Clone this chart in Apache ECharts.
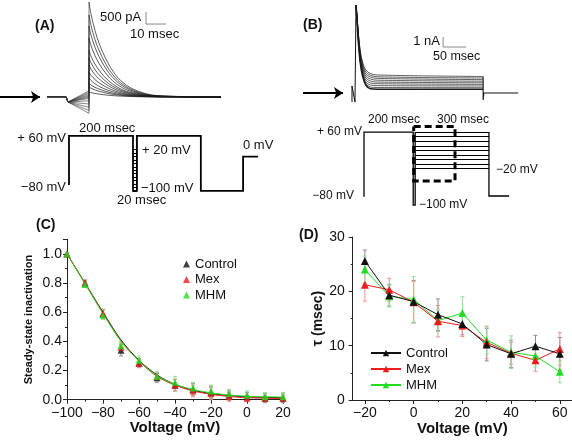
<!DOCTYPE html>
<html><head><meta charset="utf-8">
<script src="https://cdn.jsdelivr.net/npm/echarts@6/dist/echarts.min.js"></script>
<style>html,body{margin:0;padding:0;background:#fff}#c{width:572px;height:442px}</style>
</head><body><div id="c"></div><script>
// ---------- Panel A: current traces (time in ms, current in pA) ----------
const aPreTimes = [0, 9.5, 10.5];
const aPreValues = [10, 10, -210];
const aStepTime = 21;
const aFanEnd = [262, 200, 150, 90, 40, -10, -55, -155, -290, -430, -560, -680];
const aDecayTimes = [21, 22, 24, 26, 29, 33, 38, 45, 55, 87];
const aDecay = [
  [3960, 3450, 2770, 2250, 1660, 1070, 600, 260, 60, 0],
  [3420, 2980, 2390, 1950, 1430, 920, 520, 220, 50, 0],
  [2960, 2580, 2070, 1690, 1240, 800, 450, 190, 45, 0],
  [2460, 2140, 1720, 1400, 1030, 660, 370, 160, 37, 0],
  [1960, 1700, 1370, 1120, 820, 530, 290, 130, 30, 0],
  [1630, 1420, 1140, 930, 680, 440, 245, 105, 25, 0],
  [1330, 1160, 930, 760, 560, 360, 200, 85, 20, 0],
  [1040, 900, 730, 590, 440, 280, 155, 68, 15, 0],
  [790, 690, 550, 450, 330, 215, 120, 50, 12, 0],
  [580, 500, 405, 330, 245, 155, 87, 38, 9, 0],
  [420, 365, 295, 240, 175, 113, 63, 27, 6, 0],
  [210, 183, 147, 120, 88, 57, 32, 14, 3, 0]
];
const aScaleBar = {t: 49.5, pA: 3040, dT: 10, dPA: 500};
const aArrow = {from: -23.5, to: -3.5};
// Panel A voltage protocol (ms, mV)
const aProtoT = [-3, 0, 0, 200, 200, 212, 212, 412, 412, 544, 544, 591];
const aProtoV = [-80, -80, 60, 60, -100, -100, 60, 60, -100, -100, 0, 0];
const aLadderLevels = [20, 10, 0, -10, -20, -30, -40, -50, -60, -70, -80, -90, -100];
const aLadderT = [200, 212];

// ---------- Panel B: current traces (ms, nA) ----------
const bPreT = [0, 0, 6.5, 8.7, 8.7];
const bPreV = [-0.9, 0.7, -0.9, -0.9, 8.8];
const bDecayTimes = [8.7, 11, 14, 18, 23, 30, 40, 55, 285];
const bDecay = [
  [8.8, 7.6, 5.9, 4.2, 3.1, 2.3, 1.95, 1.8, 1.65],
  [8.8, 7.5, 5.8, 4.0, 2.9, 2.1, 1.78, 1.62, 1.5],
  [8.8, 7.5, 5.7, 3.9, 2.7, 1.9, 1.6, 1.46, 1.34],
  [8.8, 7.4, 5.6, 3.7, 2.5, 1.7, 1.4, 1.28, 1.18],
  [8.8, 7.4, 5.5, 3.6, 2.3, 1.5, 1.2, 1.1, 1.02],
  [8.8, 7.3, 5.4, 3.4, 2.1, 1.3, 1.0, 0.93, 0.86],
  [8.8, 7.3, 5.2, 3.3, 2.0, 1.1, 0.8, 0.74, 0.7],
  [8.8, 7.2, 5.1, 3.1, 1.8, 0.95, 0.6, 0.55, 0.53],
  [8.8, 7.2, 5.0, 3.0, 1.7, 0.8, 0.42, 0.38, 0.37]
];
const bTailT = [285, 285, 286.5, 361];
const bTailV = [1.65, -0.7, 0, 0];
const bScaleBar = {t: 198, nA: 4.6, dT: 50, dNA: 1};
const bArrow = {from: -106.5, to: -19.6};
// Panel B voltage protocol
const bProtoT = [-3, 0, 0, 200, 200, 208, 208];
const bProtoV = [-80, -80, 60, 60, -100, -100, 60];
const bTestLevels = [60, 50, 40, 30, 20, 10, 0, -10, -20];
const bTestT = [208, 508];
const bReturnT = [508, 508, 590];
const bReturnV = [60, -80, -80];
const bBox = {t0: 202, t1: 370, v0: -47, v1: 72};

// ---------- Panel C ----------
const voltC = [-100, -90, -80, -70, -60, -50, -40, -30, -20, -10, 0, 10, 20];
const ssiControl = [1.0, 0.80, 0.59, 0.34, 0.25, 0.15, 0.10, 0.07, 0.05, 0.03, 0.02, 0.01, 0.01];
const ssiMex     = [1.0, 0.80, 0.59, 0.36, 0.25, 0.16, 0.10, 0.06, 0.04, 0.02, 0.01, 0.01, 0.01];
const ssiMHM     = [1.0, 0.79, 0.58, 0.37, 0.27, 0.16, 0.12, 0.08, 0.06, 0.04, 0.03, 0.02, 0.02];
const errControlC = [0.01, 0.02, 0.03, 0.04, 0.03, 0.03, 0.04, 0.04, 0.04, 0.03, 0.03, 0.03, 0.03];
const errMexC     = [0.01, 0.02, 0.03, 0.03, 0.03, 0.03, 0.04, 0.04, 0.04, 0.03, 0.02, 0.02, 0.02];
const errMHMC     = [0.01, 0.02, 0.03, 0.03, 0.03, 0.03, 0.04, 0.04, 0.04, 0.03, 0.03, 0.03, 0.03];
const fitControl = [1.0, 0.80, 0.60, 0.41, 0.27, 0.17, 0.105, 0.066, 0.042, 0.028, 0.02, 0.016, 0.014];
const fitMex     = [1.0, 0.80, 0.595, 0.405, 0.265, 0.16, 0.10, 0.06, 0.037, 0.022, 0.014, 0.01, 0.008];
const fitMHM     = [1.0, 0.795, 0.59, 0.40, 0.265, 0.165, 0.105, 0.07, 0.047, 0.032, 0.024, 0.02, 0.018];
const cYTicks = [0, 0.2, 0.4, 0.6, 0.8, 1.0];

// ---------- Panel D ----------
const voltD = [-20, -10, 0, 10, 20, 30, 40, 50, 60];
const tauControl = [25.6, 19.3, 18.1, 15.7, 14.0, 10.2, 8.5, 9.9, 8.5];
const tauMex     = [21.2, 20.3, 18.0, 14.5, 13.7, 10.6, 8.6, 7.3, 9.4];
const tauMHM     = [24.0, 19.1, 18.5, 14.6, 16.0, 11.0, 8.8, 8.1, 5.2];
const errControlD = [2.0, 2.0, 3.9, 2.9, 2.0, 3.0, 2.5, 2.0, 3.0];
const errMexD     = [3.0, 2.1, 3.8, 2.9, 2.0, 3.0, 2.0, 2.0, 3.0];
const errMHMD     = [2.5, 2.0, 4.2, 2.0, 3.0, 2.5, 3.0, 2.0, 2.0];
const dXTicks = [-20, 0, 20, 40, 60];
const dXMinorTicks = [-10, 10, 30, 50];
const seriesNames = ['Control', 'Mex', 'MHM'];

// ---------- styles ----------
const FONT = 'Liberation Sans, Arial, Helvetica, sans-serif';
const BLACK = '#111111', RED = '#ee1b1b', GREEN = '#22dd22';
const ERR = {Control: '#8a8a8a', Mex: '#f09090', MHM: '#8fe08f'};
const minus = s => String(s).replace('-', '\u2212');

const chart = echarts.init(document.getElementById('c'), null, {renderer: 'canvas'});

const series = [];
const hiddenX = (g, min, max) => ({gridIndex: g, type: 'value', min, max, show: false});
const hiddenY = hiddenX;

function pairs(ts, vs) { return ts.map((t, i) => [t, vs[i]]); }
function traceLine(xi, data, opts) {
  return Object.assign({type: 'line', xAxisIndex: xi, yAxisIndex: xi, data, showSymbol: false, symbol: 'none',
    silent: true, animation: false, lineStyle: {color: '#1a1a1a', width: 0.7}}, opts || {});
}
function segs(xi, list, style, extra) {
  return Object.assign({type: 'lines', coordinateSystem: 'cartesian2d', xAxisIndex: xi, yAxisIndex: xi,
    polyline: true, silent: true, animation: false, lineStyle: Object.assign({opacity: 1, curveness: 0}, style),
    data: list.map(c => ({coords: c}))}, extra || {});
}

// Panel A traces
aDecay.forEach((row, i) => {
  const pre = pairs(aPreTimes, aPreValues).concat([[aStepTime, aFanEnd[i]], [aStepTime, row[0]]]);
  series.push(traceLine(0, pre, {lineStyle: {color: '#333', width: 0.6}}));
  series.push(traceLine(0, pairs(aDecayTimes, row), {smooth: 0.35}));
});
series.push(segs(0, [[[aScaleBar.t, aScaleBar.pA + aScaleBar.dPA], [aScaleBar.t, aScaleBar.pA], [aScaleBar.t + aScaleBar.dT, aScaleBar.pA]]],
  {color: '#888', width: 1}));
series.push(segs(0, [[[aArrow.from, 0], [aArrow.to, 0]]], {color: '#000', width: 2},
  {polyline: false, symbol: ['none', 'arrow'], symbolSize: 9}));
// Panel A protocol
series.push(segs(1, [pairs(aProtoT, aProtoV)], {color: '#000', width: 1.8}));
series.push(segs(1, aLadderLevels.map(v => [[aLadderT[0], v], [aLadderT[1], v]]), {color: '#000', width: 1}, {polyline: false}));
series.push(segs(1, [[[aLadderT[1], 60], [aLadderT[1], -100]]], {color: '#000', width: 1.2}));

// Panel B traces
series.push(traceLine(2, pairs(bPreT, bPreV), {lineStyle: {color: '#111', width: 1}}));
bDecay.forEach((row, i) => {
  series.push(traceLine(2, pairs(bDecayTimes, row), {smooth: 0.35,
    lineStyle: {color: '#1a1a1a', width: i === bDecay.length - 1 ? 1.6 : 0.7}}));
});
series.push(traceLine(2, pairs(bTailT, bTailV), {lineStyle: {color: '#111', width: 1.1}}));
series.push(segs(2, [[[bScaleBar.t, bScaleBar.nA + bScaleBar.dNA], [bScaleBar.t, bScaleBar.nA], [bScaleBar.t + bScaleBar.dT, bScaleBar.nA]]],
  {color: '#888', width: 1}));
series.push(segs(2, [[[bArrow.from, 0], [bArrow.to, 0]]], {color: '#000', width: 2},
  {polyline: false, symbol: ['none', 'arrow'], symbolSize: 9}));
// Panel B protocol
series.push(segs(3, [pairs(bProtoT, bProtoV), pairs(bReturnT, bReturnV)], {color: '#000', width: 1.3}));
series.push(segs(3, bTestLevels.map(v => [[bTestT[0], v], [bTestT[1], v]]), {color: '#000', width: 1.1}, {polyline: false}));
series.push(segs(3, [[[bBox.t0, bBox.v1], [bBox.t1, bBox.v1], [bBox.t1, bBox.v0], [bBox.t0, bBox.v0], [bBox.t0, bBox.v1]]],
  {color: '#000', width: 3, type: [7, 4]}));

// Error bar helper
function errBars(xi, yi, xs, ys, es, color, cap) {
  return {type: 'custom', xAxisIndex: xi, yAxisIndex: yi, silent: true, animation: false, z: 1,
    data: xs.map((x, i) => [x, ys[i] - es[i], ys[i] + es[i]]),
    encode: {x: 0, y: [1, 2]},
    renderItem(params, api) {
      const x = api.value(0);
      const p1 = api.coord([x, api.value(1)]), p2 = api.coord([x, api.value(2)]);
      const st = {stroke: color, lineWidth: 1};
      return {type: 'group', children: [
        {type: 'line', shape: {x1: p1[0], y1: p1[1], x2: p2[0], y2: p2[1]}, style: st},
        {type: 'line', shape: {x1: p1[0] - cap, y1: p1[1], x2: p1[0] + cap, y2: p1[1]}, style: st},
        {type: 'line', shape: {x1: p2[0] - cap, y1: p2[1], x2: p2[0] + cap, y2: p2[1]}, style: st}
      ]};
    }};
}

// Panel C
[[fitControl, BLACK], [fitMex, RED], [fitMHM, GREEN]].forEach(([f, col]) => {
  series.push({type: 'line', xAxisIndex: 4, yAxisIndex: 4, data: pairs(voltC, f), smooth: 0.3,
    showSymbol: false, symbol: 'none', silent: true, animation: false, lineStyle: {color: col, width: 1}, z: 2});
});
series.push(errBars(4, 4, voltC, ssiControl, errControlC, ERR.Control, 2));
series.push(errBars(4, 4, voltC, ssiMex, errMexC, ERR.Mex, 2));
series.push(errBars(4, 4, voltC, ssiMHM, errMHMC, ERR.MHM, 2));
[[ssiControl, BLACK], [ssiMex, RED], [ssiMHM, GREEN]].forEach(([d, col], i) => {
  series.push({type: 'scatter', name: seriesNames[i], xAxisIndex: 4, yAxisIndex: 4, data: pairs(voltC, d),
    symbol: 'triangle', symbolSize: 7, itemStyle: {color: col}, silent: true, animation: false, z: 3});
});

// Panel D
series.push(errBars(5, 5, voltD, tauControl, errControlD, ERR.Control, 2));
series.push(errBars(5, 5, voltD, tauMex, errMexD, ERR.Mex, 2));
series.push(errBars(5, 5, voltD, tauMHM, errMHMD, ERR.MHM, 2));
[[tauMHM, GREEN, 2], [tauMex, RED, 1], [tauControl, BLACK, 0]].forEach(([d, col, k]) => {
  series.push({type: 'line', name: 'D:' + seriesNames[k], xAxisIndex: 5, yAxisIndex: 5, data: pairs(voltD, d),
    symbol: 'triangle', symbolSize: 8, showSymbol: true, itemStyle: {color: col}, lineStyle: {color: col, width: 1},
    silent: true, animation: false, z: 3});
});

const axLine = {onZero: false, lineStyle: {color: '#222', width: 1}};
const tickStyle = {lineStyle: {color: '#222', width: 1}};
const labelStyle = {fontFamily: FONT, fontSize: 14, color: '#111'};
const nameStyle = {fontFamily: FONT, fontWeight: 'bold', color: '#111'};

const xAxis = [
  hiddenX(0, -23.5, 90), hiddenX(1, -20, 620), hiddenX(2, -110, 361), hiddenX(3, -20, 620),
  {gridIndex: 4, type: 'value', min: -100, max: 20, interval: 20, axisLine: axLine,
   axisTick: Object.assign({length: 4, inside: false}, tickStyle),
   minorTick: {show: true, splitNumber: 2, length: 2, lineStyle: {color: '#222'}},
   splitLine: {show: false}, minorSplitLine: {show: false},
   axisLabel: Object.assign({margin: 6, formatter: v => minus(v)}, labelStyle),
   name: 'Voltage (mV)', nameLocation: 'middle', nameGap: 19, nameTextStyle: Object.assign({fontSize: 15}, nameStyle)},
  {gridIndex: 5, type: 'value', min: -25, max: 65, axisLine: axLine,
   axisTick: Object.assign({length: 4, customValues: dXTicks}, tickStyle),
   splitLine: {show: false},
   axisLabel: Object.assign({margin: 6, customValues: dXTicks, formatter: v => minus(v)}, labelStyle),
   name: 'Voltage (mV)', nameLocation: 'middle', nameGap: 19, nameTextStyle: Object.assign({fontSize: 15}, nameStyle)},
  {gridIndex: 5, type: 'value', min: -25, max: 65, position: 'bottom', axisLine: {show: false, onZero: false},
   axisTick: Object.assign({length: 2, customValues: dXMinorTicks}, tickStyle),
   splitLine: {show: false}, axisLabel: {show: false}}
];
const yAxis = [
  hiddenY(0, -1000, 4000), hiddenY(1, -120, 80), hiddenY(2, -1.5, 9), hiddenY(3, -120, 80),
  {gridIndex: 4, type: 'value', min: 0, max: 1.1, interval: 0.2, axisLine: Object.assign({show: true}, axLine),
   axisTick: Object.assign({show: true, length: 4}, tickStyle),
   minorTick: {show: true, splitNumber: 2, length: 2, lineStyle: {color: '#222'}},
   splitLine: {show: false},
   axisLabel: Object.assign({margin: 5, showMaxLabel: false,
     formatter: v => (cYTicks.some(t => Math.abs(t - v) < 1e-6) ? v.toFixed(1) : '')}, labelStyle),
   name: 'Steady-state inactivation', nameLocation: 'middle', nameGap: 33,
   nameTextStyle: Object.assign({fontSize: 11}, nameStyle)},
  {gridIndex: 5, type: 'value', min: 0, max: 30, interval: 10, axisLine: Object.assign({show: true}, axLine),
   axisTick: Object.assign({show: true, length: 4}, tickStyle),
   minorTick: {show: true, splitNumber: 2, length: 2, lineStyle: {color: '#222'}},
   splitLine: {show: false},
   axisLabel: Object.assign({margin: 8}, labelStyle),
   name: '\u03c4 (msec)', nameLocation: 'middle', nameGap: 25,
   nameTextStyle: Object.assign({fontSize: 14}, nameStyle)}
];

function txt(x, y, s, opt) {
  return {type: 'text', x, y, silent: true, style: Object.assign({text: s, fontFamily: FONT, fontSize: 13, fill: '#111',
    textAlign: 'left', textVerticalAlign: 'middle'}, opt || {})};
}
const bold = {fontWeight: 'bold', fontSize: 14};
const graphic = [
  txt(35, 26, '(A)', bold),
  txt(100, 17, '500 pA'),
  txt(130, 34, '10 msec'),
  txt(66, 138, '+ 60 mV', {textAlign: 'right'}),
  txt(79, 128, '200 msec'),
  txt(142, 150, '+ 20 mV'),
  txt(66, 187, '\u221280 mV', {textAlign: 'right'}),
  txt(141, 188, '\u2212100 mV'),
  txt(117, 200, '20 msec'),
  txt(243, 145, '0 mV'),
  txt(303, 25, '(B)', bold),
  txt(440, 41, '1 nA', {textAlign: 'right'}),
  txt(433, 57, '50 msec', {fontSize: 12.5}),
  txt(362, 132, '+ 60 mV', {textAlign: 'right', fontSize: 12}),
  txt(394, 120, '200 msec', {textAlign: 'center', fontSize: 12}),
  txt(463, 120, '300 msec', {textAlign: 'center', fontSize: 12}),
  txt(354, 196, '\u221280 mV', {textAlign: 'right', fontSize: 12}),
  txt(419, 205, '\u2212100 mV', {fontSize: 12}),
  txt(496, 170, '\u221220 mV', {fontSize: 12}),
  txt(36, 225, '(C)', bold),
  txt(299, 235, '(D)', bold)
];

chart.setOption({
  animation: false,
  backgroundColor: '#fff',
  textStyle: {fontFamily: FONT},
  grid: [
    {left: 0, top: 1, width: 227, height: 120, outerBoundsMode: 'none'},
    {left: 62.6, top: 129.1, width: 204.8, height: 68.6, outerBoundsMode: 'none'},
    {left: 301.4, top: 3, width: 216.7, height: 105, outerBoundsMode: 'none'},
    {left: 359.1, top: 122.9, width: 157.4, height: 91.4, outerBoundsMode: 'none'},
    {left: 67, top: 239.4, width: 216, height: 160.3, outerBoundsMode: 'none'},
    {left: 352.7, top: 237, width: 219.3, height: 163, outerBoundsMode: 'none'}
  ],
  xAxis, yAxis,
  legend: [
    {data: seriesNames.map(n => ({name: n, icon: 'triangle'})), orient: 'vertical', left: 178, top: 251.5,
     itemWidth: 7, itemHeight: 7, itemGap: 0.5, selectedMode: false,
     textStyle: {fontFamily: FONT, fontSize: 13, color: '#111', lineHeight: 15}},
    {data: ['D:Control', 'D:Mex', 'D:MHM'], orient: 'vertical', left: 365, top: 340,
     itemWidth: 30, itemHeight: 8, itemGap: 0, selectedMode: false, formatter: n => n.slice(2),
     textStyle: {fontFamily: FONT, fontSize: 13, color: '#111', lineHeight: 16}}
  ],
  graphic,
  series
});
</script></body></html>
